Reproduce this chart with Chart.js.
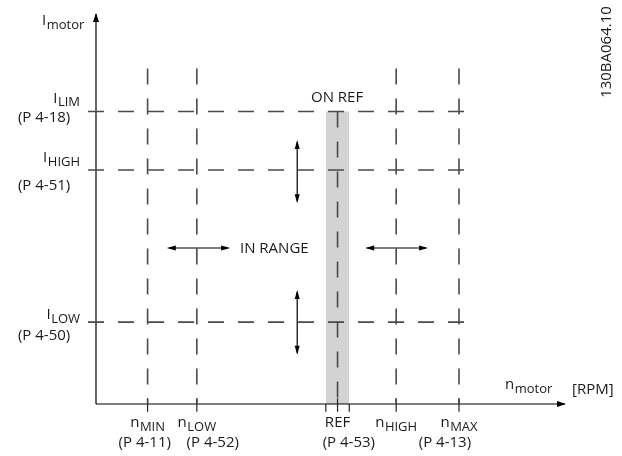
<!DOCTYPE html>
<html>
<head>
    <title>Motor current / speed warning ranges</title>
    <script src="https://cdn.jsdelivr.net/npm/chart.js@4.4.0/dist/chart.umd.min.js"></script>
    <style>
        body { margin: 0; background: #fff; }
        #wrap { width: 622px; height: 456px; }
    </style>
</head>
<body>
    <div id="wrap"><canvas id="diagram" width="622" height="456"></canvas></div>
    <script>
        // Current levels (y, % of axis) and their labels
        const currentLevels = [75, 60, 21];
        const currentNames = ['LIM', 'HIGH', 'LOW'];
        const currentParams = ['(P 4-18)', '(P 4-51)', '(P 4-50)'];

        // Speed marks (x, % of axis) and their labels
        const speedLevels = [11, 21.5, 51.5, 64, 77.4];
        const speedNames = [['n', 'MIN'], ['n', 'LOW'], ['REF', ''], ['n', 'HIGH'], ['n', 'MAX']];
        const speedParams = ['(P 4-11)', '(P 4-52)', '(P 4-53)', '(P 4-13)'];
        const speedParamAt = [10.4, 24.9, 53.9, 74.4];

        // On-reference band around REF
        const refBand = [49, 54];
        const guideTop = 86;
        const guideSpan = [-1.7, 80.8];

        // "in range" arrows
        const hArrows = [[15.1, 28.6], [57.4, 70.8]];
        const hArrowLevel = 40;
        const vArrows = [[51.5, 67.7], [12.6, 29.2]];
        const vArrowAt = 42.9;

        const dashColor = '#4a4a4a';
        const textColor = '#1a1a1a';
        const mainFont = '15px "Open Sans"';
        const subFont = '13px "Open Sans"';

        function seg(x1, y1, x2, y2, color, width, dash) {
            return {
                data: [{x: x1, y: y1}, {x: x2, y: y2}],
                borderColor: color,
                borderWidth: width,
                borderDash: dash || [],
                pointRadius: 0,
                fill: false,
                clip: false,
                order: 0
            };
        }

        const datasets = [];
        currentLevels.forEach(v => datasets.push(seg(guideSpan[0], v, guideSpan[1], v, dashColor, 1.6, [16, 14])));
        speedLevels.forEach((v, i) => {
            const top = speedNames[i][0] === 'REF' ? currentLevels[0] : guideTop;
            datasets.push(seg(v, top, v, 0, dashColor, 1.6, [16, 14]));
            datasets.push(seg(v, 1.5, v, -2, '#222', 1.2));
        });
        refBand.forEach(v => datasets.push(seg(v, 0, v, -2, '#222', 1.2)));
        // axes
        datasets.push(seg(0, 0, 0, 100, '#000', 1.2));
        datasets.push(seg(0, 0, 100, 0, '#000', 1.2));
        // band
        datasets.push({
            data: [{x: refBand[0], y: currentLevels[0]}, {x: refBand[1], y: currentLevels[0]}],
            borderWidth: 0,
            pointRadius: 0,
            backgroundColor: '#d3d3d3',
            fill: 'origin',
            clip: false,
            order: 10
        });

        function head(ctx, x, y, dx, dy, len, hw) {
            ctx.beginPath();
            ctx.moveTo(x, y);
            ctx.lineTo(x - dx * len - dy * hw, y - dy * len + dx * hw);
            ctx.lineTo(x - dx * len + dy * hw, y - dy * len - dx * hw);
            ctx.closePath();
            ctx.fill();
        }

        function subText(ctx, main, sub, x, y, align) {
            ctx.font = mainFont;
            const w1 = ctx.measureText(main).width;
            ctx.font = subFont;
            const w2 = sub ? ctx.measureText(sub).width + 0.5 : 0;
            const total = w1 + w2;
            let left = x;
            if (align === 'right') left = x - total;
            if (align === 'center') left = x - total / 2;
            ctx.textAlign = 'left';
            ctx.font = mainFont;
            ctx.fillText(main, left, y);
            if (sub) {
                ctx.font = subFont;
                ctx.fillText(sub, left + w1 + 0.5, y + 3.5);
            }
        }

        const annotations = {
            id: 'annotations',
            afterDatasetsDraw(chart) {
                const {ctx, scales: {x, y}} = chart;
                const px = v => x.getPixelForValue(v);
                const py = v => y.getPixelForValue(v);
                ctx.save();
                ctx.fillStyle = '#000';
                ctx.strokeStyle = '#000';
                // axis arrowheads
                head(ctx, px(0), py(100) - 1, 0, -1, 9, 3);
                head(ctx, px(100) + 1, py(0), 1, 0, 9, 3);

                // double arrows
                ctx.lineWidth = 1.2;
                hArrows.forEach(([a, b]) => {
                    ctx.beginPath();
                    ctx.moveTo(px(a) + 2, py(hArrowLevel));
                    ctx.lineTo(px(b) - 2, py(hArrowLevel));
                    ctx.stroke();
                    head(ctx, px(a), py(hArrowLevel), -1, 0, 9, 2.5);
                    head(ctx, px(b), py(hArrowLevel), 1, 0, 9, 2.5);
                });
                vArrows.forEach(([a, b]) => {
                    ctx.beginPath();
                    ctx.moveTo(px(vArrowAt), py(a) - 2);
                    ctx.lineTo(px(vArrowAt), py(b) + 2);
                    ctx.stroke();
                    head(ctx, px(vArrowAt), py(a), 0, 1, 9, 2.5);
                    head(ctx, px(vArrowAt), py(b), 0, -1, 9, 2.5);
                });

                ctx.fillStyle = textColor;
                ctx.textBaseline = 'alphabetic';
                // y axis title
                subText(ctx, 'I', 'motor', px(-11.5), py(100) + 11, 'left');
                // current labels
                const mainDy = [-9, -8, -3];
                const paramDy = [10, 20, 18];
                currentLevels.forEach((v, i) => {
                    subText(ctx, 'I', currentNames[i], px(-3.4), py(v) + mainDy[i], 'right');
                    ctx.font = mainFont;
                    ctx.textAlign = 'right';
                    ctx.fillText(currentParams[i], px(-5.5), py(v) + paramDy[i]);
                });
                // speed labels
                speedLevels.forEach((v, i) => {
                    subText(ctx, speedNames[i][0], speedNames[i][1], px(v), py(0) + 23, 'center');
                });
                ctx.font = mainFont;
                ctx.textAlign = 'center';
                speedParams.forEach((t, i) => ctx.fillText(t, px(speedParamAt[i]), py(0) + 43));
                // x axis title
                subText(ctx, 'n', 'motor', px(87.2), py(0) - 15, 'left');
                ctx.font = mainFont;
                ctx.textAlign = 'left';
                ctx.fillText('[RPM]', px(101.5), py(0) - 10);
                // band + range captions
                ctx.textAlign = 'center';
                ctx.fillText('ON REF', px(51.4), py(currentLevels[0]) - 10);
                ctx.textAlign = 'left';
                ctx.fillText('IN RANGE', px(30.7), py(hArrowLevel) + 5);
                // drawing number
                ctx.translate(chart.width - 15, 52);
                ctx.rotate(-Math.PI / 2);
                ctx.textAlign = 'center';
                ctx.textBaseline = 'middle';
                ctx.font = '15px "Open Sans"';
                ctx.fillText('130BA064.10', 0, 0);
                ctx.restore();
            }
        };

        new Chart(document.getElementById('diagram'), {
            type: 'line',
            data: { datasets: datasets },
            options: {
                responsive: false,
                animation: false,
                events: [],
                layout: { padding: { left: 96, right: 57, top: 14, bottom: 52 } },
                scales: {
                    x: { type: 'linear', min: 0, max: 100, display: false },
                    y: { type: 'linear', min: 0, max: 100, display: false }
                },
                plugins: { legend: { display: false }, tooltip: { enabled: false } }
            },
            plugins: [annotations]
        });
    </script>
</body>
</html>
